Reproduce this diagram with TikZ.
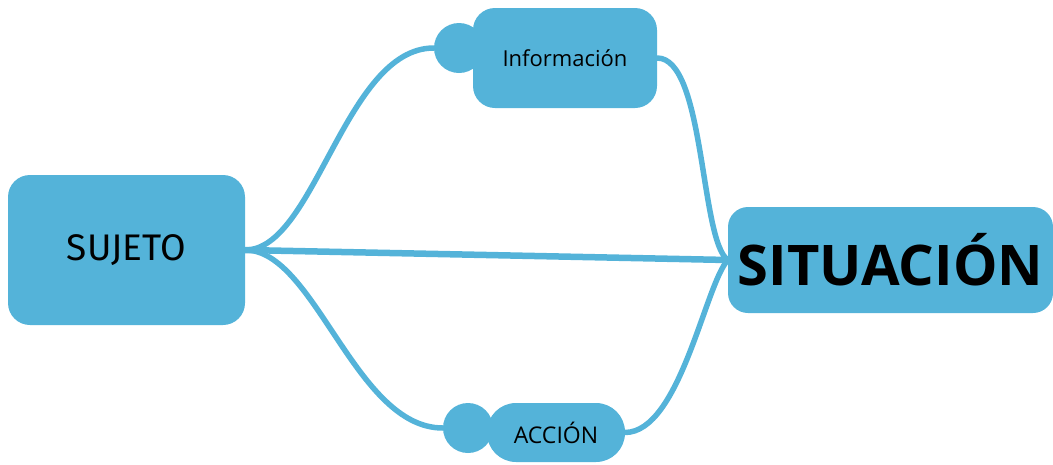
\documentclass[tikz,border=0pt]{standalone}
\usepackage{fontspec}
\setmainfont{Open Sans}
\newfontfamily\manofont{Fira Sans}

\definecolor{mapablue}{RGB}{84,179,217}

\tikzset{
    caja/.style={fill=mapablue,rounded corners=22pt,inner sep=0pt},
    bola/.style={circle,fill=mapablue,minimum size=50pt,inner sep=0pt},
    rama/.style={mapablue,line width=5.5pt}
}

\begin{document}
\begin{tikzpicture}[x=1pt,y=-1pt,line cap=round,line join=round]
        \useasboundingbox (0,0) rectangle (1053,464);

        % Nodos principales
        \node[caja,minimum width=237pt,minimum height=150pt] (sujeto) at (126.5,250)
            {\manofont\fontsize{37}{40}\selectfont SUJETO};
        \node[caja,rounded corners=20pt,minimum width=325pt,minimum height=106pt] (situacion) at (890.5,260)
            {\bfseries\fontsize{56}{58}\selectfont SITUACIÓN};

        % Ramas con su botón
        \node[caja,minimum width=184pt,minimum height=100pt] (info) at (565,58)
            {\fontsize{22}{24}\selectfont Información};
        \node[bola] (infobola) at (459,48) {};
        \node[caja,rounded corners=29pt,minimum width=138pt,minimum height=59pt] (accion) at (556,432.5)
            {\fontsize{23}{24}\selectfont ACCIÓN};
        \node[bola] (accionbola) at (468,428) {};

        % Conectores
        \draw[rama] (sujeto.east) .. controls (315,250) and (345,48) .. (infobola.west);
        \draw[rama] (sujeto.east) .. controls (315,250) and (355,428) .. (accionbola.west);
        \draw[rama,line width=6.5pt] (sujeto.east) -- (situacion.west);
        \draw[rama] (info.east) .. controls (705,58) and (700,240) .. (situacion.west);
        \draw[rama] (accion.east) .. controls (680,432) and (705,285) .. (situacion.west);
    \end{tikzpicture}
\end{document}
